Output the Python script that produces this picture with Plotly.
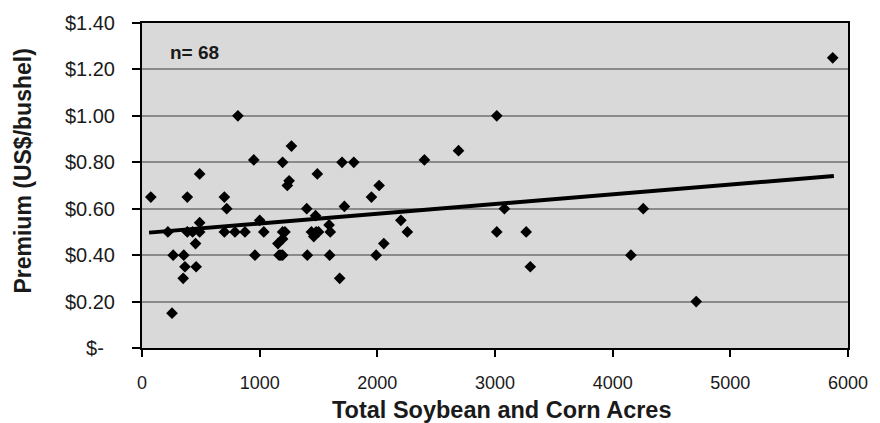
import plotly.graph_objects as go

# Data
acres = [75, 385, 490, 700, 720, 950, 1195, 1250, 1235, 1490,
         1700, 1800, 2015, 1950, 1720, 1400, 1475, 1590, 1000, 490,
         220, 385, 490, 700, 790, 875, 1035, 1195, 1440, 1500,
         1600, 1460, 455, 1155, 1195, 265, 355, 960, 1165, 1195,
         1405, 1595, 1990, 365, 460, 350, 1680, 255, 815, 1270,
         3015, 2690, 2400, 2200, 2255, 3080, 3015, 3265, 2055, 3300,
         5870, 4260, 4155, 4710, 430, 1215, 1480, 1180]
premium = [0.65, 0.65, 0.75, 0.65, 0.60, 0.81, 0.80, 0.72, 0.70, 0.75,
           0.80, 0.80, 0.70, 0.65, 0.61, 0.60, 0.57, 0.53, 0.55, 0.54,
           0.50, 0.50, 0.50, 0.50, 0.50, 0.50, 0.50, 0.50, 0.50, 0.50,
           0.50, 0.48, 0.45, 0.45, 0.47, 0.40, 0.40, 0.40, 0.40, 0.40,
           0.40, 0.40, 0.40, 0.35, 0.35, 0.30, 0.30, 0.15, 1.00, 0.87,
           1.00, 0.85, 0.81, 0.55, 0.50, 0.60, 0.50, 0.50, 0.45, 0.35,
           1.25, 0.60, 0.40, 0.20, 0.50, 0.50, 0.50, 0.40]

trend_x = [60, 5880]
trend_y = [0.497, 0.741]

y_tickvals = [0, 0.2, 0.4, 0.6, 0.8, 1.0, 1.2, 1.4]
y_ticktext = ["$-\u00a0\u00a0", "$0.20", "$0.40", "$0.60", "$0.80", "$1.00", "$1.20", "$1.40"]
x_tickvals = [0, 1000, 2000, 3000, 4000, 5000, 6000]
x_ticktext = ["0", "1000", "2000", "3000", "4000", "5000", "6000"]

n_label = "n= 68"
x_title = "Total Soybean and Corn Acres"
y_title = "Premium (US$/bushel)"

fig = go.Figure()
fig.add_trace(go.Scatter(
    x=trend_x, y=trend_y, mode="lines",
    line=dict(color="black", width=4), hoverinfo="skip"))
fig.add_trace(go.Scatter(
    x=acres, y=premium, mode="markers",
    marker=dict(symbol="diamond", size=9, color="black", line=dict(width=0))))

fig.update_layout(
    width=880, height=423,
    margin=dict(l=142, r=27, t=20, b=75),
    paper_bgcolor="white", plot_bgcolor="#d9d9d9",
    showlegend=False,
    font=dict(family="Liberation Sans, Arial, sans-serif", color="#1a1a1a"),
    xaxis=dict(
        range=[0, 6000], tickvals=x_tickvals, ticktext=x_ticktext,
        showgrid=False, zeroline=False,
        showline=True, linecolor="black", linewidth=2, mirror=True,
        ticks="outside", ticklen=7, tickcolor="black", tickwidth=1.5,
        tickfont=dict(size=18),
        ticklabelstandoff=10,
    ),
    yaxis=dict(
        range=[0, 1.4], tickvals=y_tickvals, ticktext=y_ticktext,
        showgrid=True, gridcolor="#8a8a8a", gridwidth=2, zeroline=False,
        showline=True, linecolor="black", linewidth=2, mirror=True,
        ticks="outside", ticklen=8, tickcolor="black", tickwidth=1.5,
        tickfont=dict(size=20),
        ticklabelstandoff=13,
    ),
    annotations=[
        dict(text="<b>" + n_label + "</b>", xref="paper", yref="paper",
             x=0.0366, y=0.909, xanchor="left", yanchor="middle",
             showarrow=False, font=dict(size=19, color="#1a1a1a")),
        dict(text="<b>" + x_title + "</b>", xref="paper", yref="paper",
             x=0.51, y=-0.192, xanchor="center", yanchor="middle",
             showarrow=False, font=dict(size=23.5, color="#1a1a1a")),
        dict(text="<b>" + y_title + "</b>", xref="paper", yref="paper",
             x=-0.169, y=0.545, xanchor="center", yanchor="middle",
             textangle=-90, showarrow=False, font=dict(size=23, color="#1a1a1a")),
    ],
)

fig.write_html("out.html")
